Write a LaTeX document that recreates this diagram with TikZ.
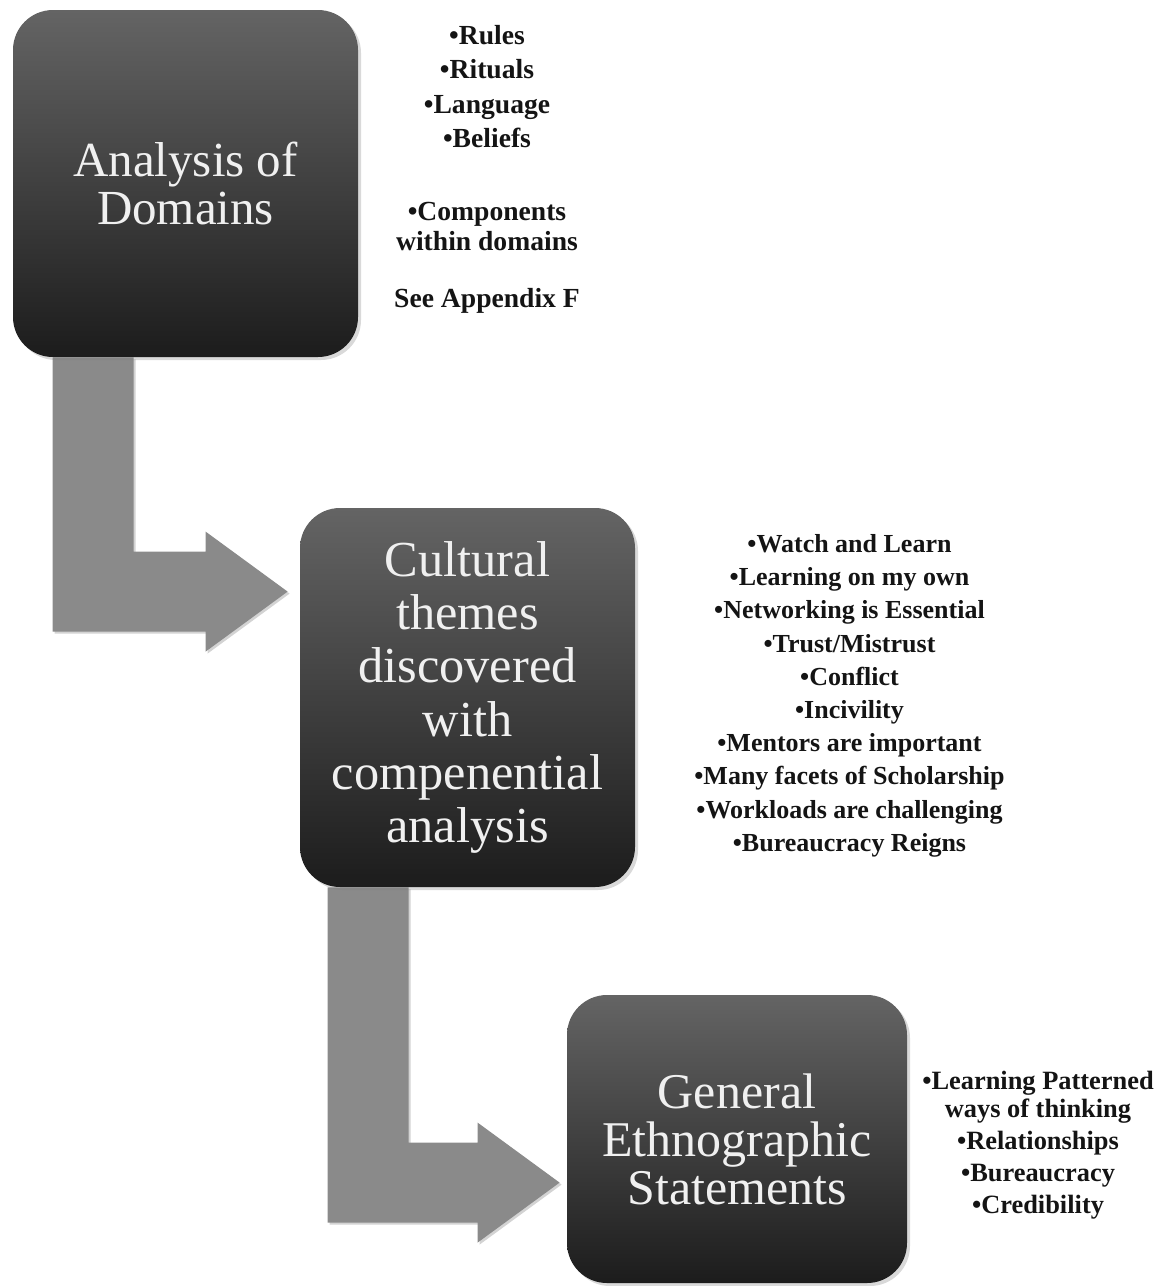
\documentclass[tikz,border=0pt]{standalone}
\usepackage{fontspec}
\setmainfont{Liberation Serif}
\usetikzlibrary{positioning, calc, shadows, backgrounds}
\definecolor{boxTop}{HTML}{646464}
\definecolor{boxBottom}{HTML}{1C1C1C}
\definecolor{bendFill}{HTML}{8A8A8A}
\definecolor{noteText}{HTML}{141414}
\tikzset{
  chart/.style = {
    every node/.append style={execute at begin node=\linespread{1}\selectfont},
  },
  stage/.style = {
    rectangle, rounded corners=20pt, top color=boxTop, bottom color=boxBottom,
    draw=none, text=white!94!black, align=center, inner sep=0pt,
    drop shadow={shadow xshift=1.5pt, shadow yshift=-1.5pt, opacity=.3},
  },
  notes/.style = {
    text=noteText, align=center, inner sep=0pt, anchor=north,
  },
  elbowarrow/.style = {
    fill=bendFill,
    drop shadow={shadow xshift=1pt, shadow yshift=-1pt, opacity=.35},
  },
}
% elbow arrow: #1 = top left corner of the shaft, #2 = tip
\newcommand\elbow[2]{%
  \path[elbowarrow] (#1) -- ($(#1 |- #2)+(0,-40)$) -- ($(#2)+(-82,-40)$)
    -- ($(#2)+(-82,-60)$) -- (#2) -- ($(#2)+(-82,60)$) -- ($(#2)+(-82,40)$)
    -- ($(#1 |- #2)+(81,40)$) -- ($(#1)+(81,0)$) -- cycle;}

\begin{document}
\begin{tikzpicture}[chart, x=0.5pt, y=0.5pt]
\useasboundingbox (0,0) rectangle (1166,-1286);

% the three stages
\node[stage, minimum width=172.5pt, minimum height=173.5pt,
  font=\fontsize{24.5}{24}\selectfont] (dom) at (185.5,-183.5)
  {Analysis of\\Domains};
\node[stage, minimum width=167.5pt, minimum height=189.5pt,
  font=\fontsize{25.2}{26.6}\selectfont] (theme) at (467.5,-697.5)
  {Cultural\\themes\\discovered\\with\\compenential\\analysis};
\node[stage, minimum width=170pt, minimum height=144pt,
  font=\fontsize{25}{24}\selectfont] (stmt) at (737,-1139)
  {General\\Ethnographic\\Statements};

% bent arrows
\path (dom.south west) ++(40,0) coordinate (s1);
\path (theme.north west) ++(-12,-84) coordinate (t1);
\path (theme.south west) ++(28,0) coordinate (s2);
\path (stmt.north west) ++(-7,-188) coordinate (t2);
\begin{scope}[on background layer]
\elbow{s1}{t1}
\elbow{s2}{t2}
\end{scope}

% notes beside the stages
\node[notes, font=\fontsize{13.8}{15}\bfseries\selectfont] (domnote) at (487,-25)
  {•Rules\\[2.2pt] •Rituals\\[2.2pt] •Language\\[2.2pt] •Beliefs\\[21.5pt]
   •Components\\ within domains\\[13.5pt] See Appendix F};
\node[notes, font=\fontsize{13}{16.6}\bfseries\selectfont] (themenote) at (849.5,-534)
  {•Watch and Learn\\ •Learning on my own\\ •Networking is Essential\\
   •Trust/Mistrust\\ •Conflict\\ •Incivility\\ •Mentors are important\\
   •Many facets of Scholarship\\ •Workloads are challenging\\ •Bureaucracy Reigns};
\node[notes, font=\fontsize{13.2}{14}\bfseries\selectfont] (stmtnote) at (1038,-1071)
  {•Learning Patterned\\ ways of thinking\\[2pt] •Relationships\\[2pt]
   •Bureaucracy\\[2pt] •Credibility};

\end{tikzpicture}
\end{document}
